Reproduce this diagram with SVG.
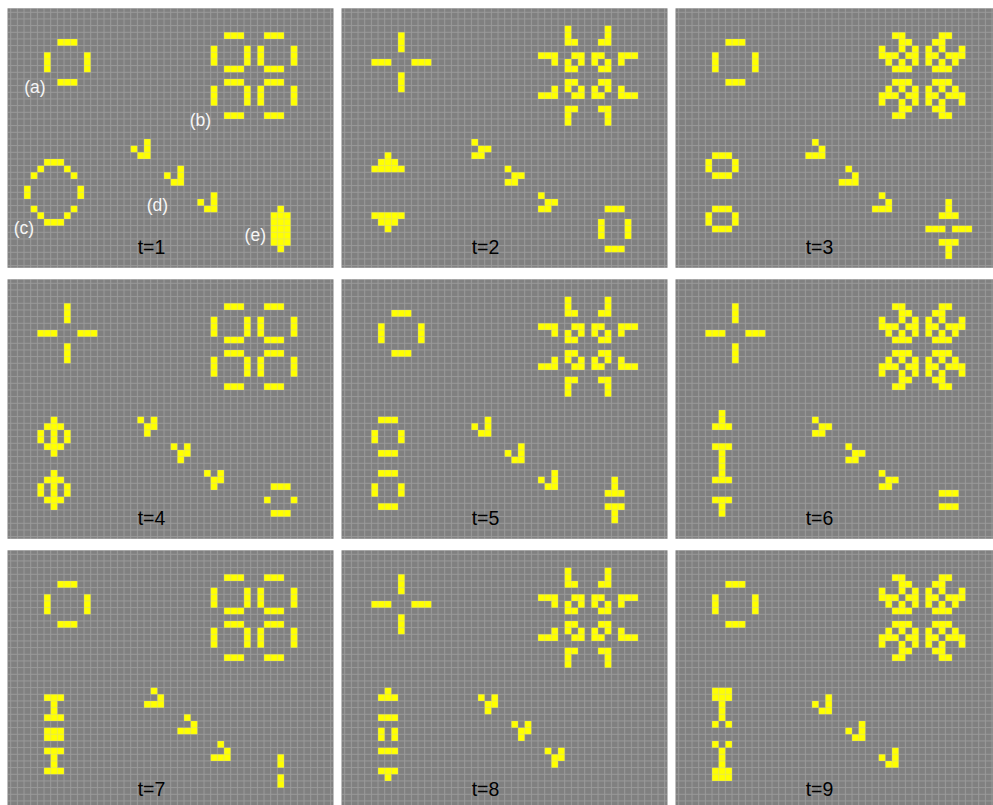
<svg xmlns="http://www.w3.org/2000/svg" width="993" height="805" viewBox="0 0 993 805">
<style>
.bg{fill:#808080}
.cells{fill:#ffff00}
.grid{fill:url(#g)}
.t{font-family:"Liberation Sans",Arial,sans-serif;font-size:19.5px;fill:#000;text-anchor:middle}
.lab{font-family:"Liberation Sans",Arial,sans-serif;font-size:17.5px;fill:#f6f6f6;text-anchor:middle}
</style>
<defs>
<pattern id="g" patternUnits="userSpaceOnUse" x="2.7" y="-3.17" width="6.6667" height="6.6667">
<path d="M0 0.5H6.6667M0.5 0V6.6667" stroke="#c8c8c8" stroke-opacity="0.36" stroke-width="1" fill="none"/>
</pattern>
</defs>
<rect width="993" height="805" fill="#fff"/>

<g id="panel-t1" transform="translate(7.5,8.3)">
<rect class="bg" width="326" height="259.5"/>
<path class="cells" transform="translate(3.2,-2.67) scale(6.6667)" d="M7 5h3v1h-3z M7 11h3v1h-3z M5 7h1v3h-1z M11 7h1v3h-1z M32 4h3v1h-3z M38 4h3v1h-3z M32 9h3v1h-3z M38 9h3v1h-3z M32 11h3v1h-3z M38 11h3v1h-3z M32 16h3v1h-3z M38 16h3v1h-3z M30 6h1v3h-1z M30 12h1v3h-1z M35 6h1v3h-1z M35 12h1v3h-1z M37 6h1v3h-1z M37 12h1v3h-1z M42 6h1v3h-1z M42 12h1v3h-1z M20 20h1v3h-1z M18 21h1v1h-1z M19 22h1v1h-1z M25 24h1v3h-1z M23 25h1v1h-1z M24 26h1v1h-1z M30 28h1v3h-1z M28 29h1v1h-1z M29 30h1v1h-1z M5 23h3v1h-3z M4 24h1v1h-1z M8 24h1v1h-1z M3 25h1v1h-1z M9 25h1v1h-1z M2 27h1v2h-1z M10 27h1v2h-1z M3 30h1v1h-1z M9 30h1v1h-1z M4 31h1v1h-1z M8 31h1v1h-1z M5 32h3v1h-3z M40 30h1v1h-1z M39 31h3v5h-3z M40 36h1v1h-1z"/>
<rect class="grid" width="326" height="259.5"/>
<text class="lab" x="27.5" y="84.7">(a)</text>
<text class="lab" x="193" y="117.7">(b)</text>
<text class="lab" x="16.5" y="225.7">(c)</text>
<text class="lab" x="150" y="203">(d)</text>
<text class="lab" x="247.8" y="232.3">(e)</text>
<text class="t" x="144" y="245.4">t=1</text>
</g>

<g id="panel-t2" transform="translate(341.5,8.3)">
<rect class="bg" width="326" height="259.5"/>
<path class="cells" transform="translate(3.2,-2.67) scale(6.6667)" d="M8 4h1v3h-1z M8 10h1v3h-1z M4 8h3v1h-3z M10 8h3v1h-3z M33 3h1v3h-1z M39 3h1v3h-1z M34 5h1v1h-1z M38 5h1v1h-1z M33 15h1v3h-1z M39 15h1v3h-1z M34 15h1v1h-1z M38 15h1v1h-1z M29 7h3v1h-3z M34 7h2v1h-2z M37 7h2v1h-2z M41 7h3v1h-3z M31 8h1v1h-1z M33 8h1v1h-1z M35 8h1v1h-1z M37 8h1v1h-1z M39 8h1v1h-1z M41 8h1v1h-1z M33 9h2v1h-2z M38 9h2v1h-2z M33 11h2v1h-2z M38 11h2v1h-2z M31 12h1v1h-1z M33 12h1v1h-1z M35 12h1v1h-1z M37 12h1v1h-1z M39 12h1v1h-1z M41 12h1v1h-1z M29 13h3v1h-3z M34 13h2v1h-2z M37 13h2v1h-2z M41 13h3v1h-3z M19 20h1v1h-1z M20 21h2v1h-2z M19 22h2v1h-2z M24 24h1v1h-1z M25 25h2v1h-2z M24 26h2v1h-2z M29 28h1v1h-1z M30 29h2v1h-2z M29 30h2v1h-2z M6 22h1v1h-1z M5 23h3v1h-3z M4 24h5v1h-5z M4 31h5v1h-5z M5 32h3v1h-3z M6 33h1v1h-1z M39 30h3v1h-3z M38 32h1v3h-1z M42 32h1v3h-1z M39 36h3v1h-3z"/>
<rect class="grid" width="326" height="259.5"/>
<text class="t" x="144" y="245.4">t=2</text>
</g>

<g id="panel-t3" transform="translate(675.5,8.3)">
<rect class="bg" width="326" height="259.5"/>
<path class="cells" transform="translate(3.2,-2.67) scale(6.6667)" d="M7 5h3v1h-3z M7 11h3v1h-3z M5 7h1v3h-1z M11 7h1v3h-1z M32 4h2v1h-2z M39 4h2v1h-2z M33 5h2v1h-2z M38 5h2v1h-2z M30 6h1v1h-1z M33 6h1v1h-1z M35 6h1v1h-1z M37 6h1v1h-1z M39 6h1v1h-1z M42 6h1v1h-1z M30 7h3v1h-3z M34 7h2v1h-2z M37 7h2v1h-2z M40 7h3v1h-3z M31 8h1v1h-1z M33 8h1v1h-1z M35 8h1v1h-1z M37 8h1v1h-1z M39 8h1v1h-1z M41 8h1v1h-1z M32 9h3v1h-3z M38 9h3v1h-3z M32 11h3v1h-3z M38 11h3v1h-3z M31 12h1v1h-1z M33 12h1v1h-1z M35 12h1v1h-1z M37 12h1v1h-1z M39 12h1v1h-1z M41 12h1v1h-1z M30 13h3v1h-3z M34 13h2v1h-2z M37 13h2v1h-2z M40 13h3v1h-3z M30 14h1v1h-1z M33 14h1v1h-1z M35 14h1v1h-1z M37 14h1v1h-1z M39 14h1v1h-1z M42 14h1v1h-1z M33 15h2v1h-2z M38 15h2v1h-2z M32 16h2v1h-2z M39 16h2v1h-2z M20 20h1v1h-1z M21 21h1v1h-1z M19 22h3v1h-3z M25 24h1v1h-1z M26 25h1v1h-1z M24 26h3v1h-3z M30 28h1v1h-1z M31 29h1v1h-1z M29 30h3v1h-3z M5 22h3v1h-3z M4 23h1v2h-1z M8 23h1v2h-1z M5 25h3v1h-3z M5 30h3v1h-3z M4 31h1v2h-1z M8 31h1v2h-1z M5 33h3v1h-3z M40 29h1v2h-1z M39 31h3v1h-3z M37 33h3v1h-3z M41 33h3v1h-3z M39 35h3v1h-3z M40 36h1v2h-1z"/>
<rect class="grid" width="326" height="259.5"/>
<text class="t" x="144" y="245.4">t=3</text>
</g>

<g id="panel-t4" transform="translate(7.5,279.3)">
<rect class="bg" width="326" height="259.5"/>
<path class="cells" transform="translate(3.2,-2.67) scale(6.6667)" d="M8 4h1v3h-1z M8 10h1v3h-1z M4 8h3v1h-3z M10 8h3v1h-3z M32 4h3v1h-3z M38 4h3v1h-3z M32 9h3v1h-3z M38 9h3v1h-3z M32 11h3v1h-3z M38 11h3v1h-3z M32 16h3v1h-3z M38 16h3v1h-3z M30 6h1v3h-1z M30 12h1v3h-1z M35 6h1v3h-1z M35 12h1v3h-1z M37 6h1v3h-1z M37 12h1v3h-1z M42 6h1v3h-1z M42 12h1v3h-1z M19 21h1v1h-1z M21 21h1v1h-1z M20 22h2v1h-2z M20 23h1v1h-1z M24 25h1v1h-1z M26 25h1v1h-1z M25 26h2v1h-2z M25 27h1v1h-1z M29 29h1v1h-1z M31 29h1v1h-1z M30 30h2v1h-2z M30 31h1v1h-1z M6 21h1v1h-1z M5 22h3v1h-3z M4 23h1v2h-1z M6 23h1v2h-1z M8 23h1v2h-1z M5 25h3v1h-3z M6 26h1v1h-1z M6 29h1v1h-1z M5 30h3v1h-3z M4 31h1v2h-1z M6 31h1v2h-1z M8 31h1v2h-1z M5 33h3v1h-3z M6 34h1v1h-1z M39 31h3v1h-3z M38 33h1v1h-1z M42 33h1v1h-1z M39 35h3v1h-3z"/>
<rect class="grid" width="326" height="259.5"/>
<text class="t" x="144" y="245.4">t=4</text>
</g>

<g id="panel-t5" transform="translate(341.5,279.3)">
<rect class="bg" width="326" height="259.5"/>
<path class="cells" transform="translate(3.2,-2.67) scale(6.6667)" d="M7 5h3v1h-3z M7 11h3v1h-3z M5 7h1v3h-1z M11 7h1v3h-1z M33 3h1v3h-1z M39 3h1v3h-1z M34 5h1v1h-1z M38 5h1v1h-1z M33 15h1v3h-1z M39 15h1v3h-1z M34 15h1v1h-1z M38 15h1v1h-1z M29 7h3v1h-3z M34 7h2v1h-2z M37 7h2v1h-2z M41 7h3v1h-3z M31 8h1v1h-1z M33 8h1v1h-1z M35 8h1v1h-1z M37 8h1v1h-1z M39 8h1v1h-1z M41 8h1v1h-1z M33 9h2v1h-2z M38 9h2v1h-2z M33 11h2v1h-2z M38 11h2v1h-2z M31 12h1v1h-1z M33 12h1v1h-1z M35 12h1v1h-1z M37 12h1v1h-1z M39 12h1v1h-1z M41 12h1v1h-1z M29 13h3v1h-3z M34 13h2v1h-2z M37 13h2v1h-2z M41 13h3v1h-3z M21 21h1v3h-1z M19 22h1v1h-1z M20 23h1v1h-1z M26 25h1v3h-1z M24 26h1v1h-1z M25 27h1v1h-1z M31 29h1v3h-1z M29 30h1v1h-1z M30 31h1v1h-1z M5 21h3v1h-3z M4 23h1v2h-1z M8 23h1v2h-1z M5 26h3v1h-3z M5 29h3v1h-3z M4 31h1v2h-1z M8 31h1v2h-1z M5 34h3v1h-3z M40 30h1v2h-1z M39 32h3v1h-3z M39 34h3v1h-3z M40 35h1v2h-1z"/>
<rect class="grid" width="326" height="259.5"/>
<text class="t" x="144" y="245.4">t=5</text>
</g>

<g id="panel-t6" transform="translate(675.5,279.3)">
<rect class="bg" width="326" height="259.5"/>
<path class="cells" transform="translate(3.2,-2.67) scale(6.6667)" d="M8 4h1v3h-1z M8 10h1v3h-1z M4 8h3v1h-3z M10 8h3v1h-3z M32 4h2v1h-2z M39 4h2v1h-2z M33 5h2v1h-2z M38 5h2v1h-2z M30 6h1v1h-1z M33 6h1v1h-1z M35 6h1v1h-1z M37 6h1v1h-1z M39 6h1v1h-1z M42 6h1v1h-1z M30 7h3v1h-3z M34 7h2v1h-2z M37 7h2v1h-2z M40 7h3v1h-3z M31 8h1v1h-1z M33 8h1v1h-1z M35 8h1v1h-1z M37 8h1v1h-1z M39 8h1v1h-1z M41 8h1v1h-1z M32 9h3v1h-3z M38 9h3v1h-3z M32 11h3v1h-3z M38 11h3v1h-3z M31 12h1v1h-1z M33 12h1v1h-1z M35 12h1v1h-1z M37 12h1v1h-1z M39 12h1v1h-1z M41 12h1v1h-1z M30 13h3v1h-3z M34 13h2v1h-2z M37 13h2v1h-2z M40 13h3v1h-3z M30 14h1v1h-1z M33 14h1v1h-1z M35 14h1v1h-1z M37 14h1v1h-1z M39 14h1v1h-1z M42 14h1v1h-1z M33 15h2v1h-2z M38 15h2v1h-2z M32 16h2v1h-2z M39 16h2v1h-2z M20 21h1v1h-1z M21 22h2v1h-2z M20 23h2v1h-2z M25 25h1v1h-1z M26 26h2v1h-2z M25 27h2v1h-2z M30 29h1v1h-1z M31 30h2v1h-2z M30 31h2v1h-2z M6 20h1v2h-1z M5 22h3v1h-3z M5 25h3v1h-3z M6 26h1v4h-1z M5 30h3v1h-3z M5 33h3v1h-3z M6 34h1v2h-1z M39 32h3v1h-3z M39 34h3v1h-3z"/>
<rect class="grid" width="326" height="259.5"/>
<text class="t" x="144" y="245.4">t=6</text>
</g>

<g id="panel-t7" transform="translate(7.5,550.3)">
<rect class="bg" width="326" height="259.5"/>
<path class="cells" transform="translate(3.2,-2.67) scale(6.6667)" d="M7 5h3v1h-3z M7 11h3v1h-3z M5 7h1v3h-1z M11 7h1v3h-1z M32 4h3v1h-3z M38 4h3v1h-3z M32 9h3v1h-3z M38 9h3v1h-3z M32 11h3v1h-3z M38 11h3v1h-3z M32 16h3v1h-3z M38 16h3v1h-3z M30 6h1v3h-1z M30 12h1v3h-1z M35 6h1v3h-1z M35 12h1v3h-1z M37 6h1v3h-1z M37 12h1v3h-1z M42 6h1v3h-1z M42 12h1v3h-1z M21 21h1v1h-1z M22 22h1v1h-1z M20 23h3v1h-3z M26 25h1v1h-1z M27 26h1v1h-1z M25 27h3v1h-3z M31 29h1v1h-1z M32 30h1v1h-1z M30 31h3v1h-3z M5 22h3v1h-3z M6 23h1v2h-1z M5 25h3v1h-3z M5 27h3v2h-3z M5 30h3v1h-3z M6 31h1v2h-1z M5 33h3v1h-3z M40 31h1v2h-1z M40 34h1v2h-1z"/>
<rect class="grid" width="326" height="259.5"/>
<text class="t" x="144" y="245.4">t=7</text>
</g>

<g id="panel-t8" transform="translate(341.5,550.3)">
<rect class="bg" width="326" height="259.5"/>
<path class="cells" transform="translate(3.2,-2.67) scale(6.6667)" d="M8 4h1v3h-1z M8 10h1v3h-1z M4 8h3v1h-3z M10 8h3v1h-3z M33 3h1v3h-1z M39 3h1v3h-1z M34 5h1v1h-1z M38 5h1v1h-1z M33 15h1v3h-1z M39 15h1v3h-1z M34 15h1v1h-1z M38 15h1v1h-1z M29 7h3v1h-3z M34 7h2v1h-2z M37 7h2v1h-2z M41 7h3v1h-3z M31 8h1v1h-1z M33 8h1v1h-1z M35 8h1v1h-1z M37 8h1v1h-1z M39 8h1v1h-1z M41 8h1v1h-1z M33 9h2v1h-2z M38 9h2v1h-2z M33 11h2v1h-2z M38 11h2v1h-2z M31 12h1v1h-1z M33 12h1v1h-1z M35 12h1v1h-1z M37 12h1v1h-1z M39 12h1v1h-1z M41 12h1v1h-1z M29 13h3v1h-3z M34 13h2v1h-2z M37 13h2v1h-2z M41 13h3v1h-3z M20 22h1v1h-1z M22 22h1v1h-1z M21 23h2v1h-2z M21 24h1v1h-1z M25 26h1v1h-1z M27 26h1v1h-1z M26 27h2v1h-2z M26 28h1v1h-1z M30 30h1v1h-1z M32 30h1v1h-1z M31 31h2v1h-2z M31 32h1v1h-1z M6 21h1v1h-1z M5 22h3v1h-3z M5 25h3v1h-3z M5 27h1v2h-1z M7 27h1v2h-1z M5 30h3v1h-3z M5 33h3v1h-3z M6 34h1v1h-1z"/>
<rect class="grid" width="326" height="259.5"/>
<text class="t" x="144" y="245.4">t=8</text>
</g>

<g id="panel-t9" transform="translate(675.5,550.3)">
<rect class="bg" width="326" height="259.5"/>
<path class="cells" transform="translate(3.2,-2.67) scale(6.6667)" d="M7 5h3v1h-3z M7 11h3v1h-3z M5 7h1v3h-1z M11 7h1v3h-1z M32 4h2v1h-2z M39 4h2v1h-2z M33 5h2v1h-2z M38 5h2v1h-2z M30 6h1v1h-1z M33 6h1v1h-1z M35 6h1v1h-1z M37 6h1v1h-1z M39 6h1v1h-1z M42 6h1v1h-1z M30 7h3v1h-3z M34 7h2v1h-2z M37 7h2v1h-2z M40 7h3v1h-3z M31 8h1v1h-1z M33 8h1v1h-1z M35 8h1v1h-1z M37 8h1v1h-1z M39 8h1v1h-1z M41 8h1v1h-1z M32 9h3v1h-3z M38 9h3v1h-3z M32 11h3v1h-3z M38 11h3v1h-3z M31 12h1v1h-1z M33 12h1v1h-1z M35 12h1v1h-1z M37 12h1v1h-1z M39 12h1v1h-1z M41 12h1v1h-1z M30 13h3v1h-3z M34 13h2v1h-2z M37 13h2v1h-2z M40 13h3v1h-3z M30 14h1v1h-1z M33 14h1v1h-1z M35 14h1v1h-1z M37 14h1v1h-1z M39 14h1v1h-1z M42 14h1v1h-1z M33 15h2v1h-2z M38 15h2v1h-2z M32 16h2v1h-2z M39 16h2v1h-2z M22 22h1v3h-1z M20 23h1v1h-1z M21 24h1v1h-1z M27 26h1v3h-1z M25 27h1v1h-1z M26 28h1v1h-1z M32 30h1v3h-1z M30 31h1v1h-1z M31 32h1v1h-1z M5 21h3v2h-3z M6 23h1v3h-1z M5 26h1v1h-1z M7 26h1v1h-1z M5 29h1v1h-1z M7 29h1v1h-1z M6 30h1v3h-1z M5 33h3v2h-3z"/>
<rect class="grid" width="326" height="259.5"/>
<text class="t" x="144" y="245.4">t=9</text>
</g>
</svg>
